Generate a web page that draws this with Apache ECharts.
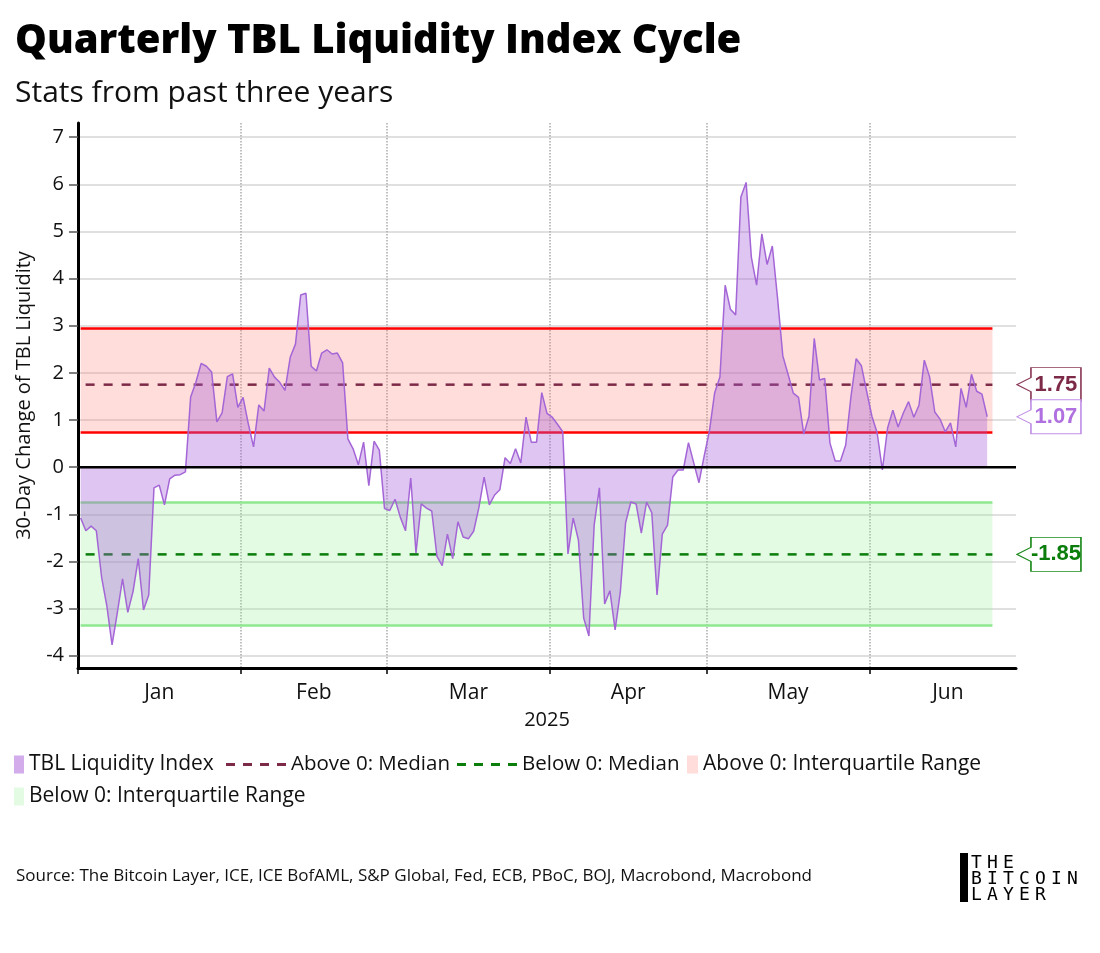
<!DOCTYPE html>
<html><head><meta charset="utf-8">
<script src="https://cdn.jsdelivr.net/npm/echarts@6/dist/echarts.min.js"></script>
<style>html,body{margin:0;padding:0;background:#fff}#chart{width:1100px;height:953px}</style>
</head><body><div id="chart"></div>
<script>
// ---- data (daily, first observation Jan 1 2025; x = days since Jan 1 00:00) ----
const valuesJan = [-1.08,-1.35,-1.25,-1.35,-2.33,-2.94,-3.77,-3.09,-2.37,-3.08,-2.64,-1.94,-3.03,-2.71,-0.44,-0.38,-0.80,-0.25,-0.17,-0.16,-0.10,1.49,1.80,2.20,2.14,2.02,0.96,1.15,1.92,1.98,1.27];
const valuesFeb = [1.48,0.92,0.43,1.32,1.19,2.10,1.91,1.80,1.63,2.33,2.61,3.65,3.69,2.14,2.04,2.42,2.49,2.40,2.42,2.21,0.60,0.39,0.05,0.53,-0.39,0.55,0.36,-0.88];
const valuesMar = [-0.92,-0.68,-1.06,-1.35,-0.23,-1.82,-0.78,-0.87,-0.93,-1.89,-2.09,-1.42,-1.94,-1.16,-1.48,-1.52,-1.36,-0.86,-0.21,-0.80,-0.59,-0.48,0.20,0.08,0.39,0.09,1.06,0.53,0.53,1.58,1.14];
const valuesApr = [1.06,0.91,0.75,-1.84,-1.08,-1.55,-3.20,-3.58,-1.23,-0.44,-2.90,-2.62,-3.45,-2.64,-1.18,-0.74,-0.78,-1.40,-0.74,-0.97,-2.71,-1.42,-1.23,-0.21,-0.06,-0.06,0.52,0.09,-0.33,0.24];
const valuesMay = [0.77,1.58,1.91,3.86,3.35,3.23,5.73,6.04,4.45,3.86,4.95,4.30,4.69,3.58,2.36,1.97,1.57,1.48,0.70,1.08,2.73,1.85,1.88,0.51,0.13,0.13,0.47,1.49,2.30,2.15,1.61];
const valuesJun = [1.08,0.73,-0.06,0.83,1.21,0.85,1.15,1.39,1.06,1.32,2.27,1.92,1.17,1.02,0.75,0.94,0.43,1.67,1.27,1.97,1.61,1.55,1.07];

const aboveMedian = 1.75;
const belowMedian = -1.85;
const aboveIQR = [0.75, 2.95];
const belowIQR = [-3.35, -0.75];
const statsLastDay = 174;          // statistics drawn through Jun 24

const monthNames = ['Jan','Feb','Mar','Apr','May','Jun'];
const monthLengths = [31, 28, 31, 30, 31, 30];
const yTicks = [-4,-3,-2,-1,0,1,2,3,4,5,6,7];
const xRange = [0, 179];           // Jan 1 00:00 .. Jun 29 00:00
const yRange = [-4.26, 7.3];

// ---- build ----
const values = [].concat(valuesJan, valuesFeb, valuesMar, valuesApr, valuesMay, valuesJun);
const dayPos = i => i + 0.5;       // daily observations centred on the day
const seriesData = values.map((v, i) => [dayPos(i), v]);
const monthStartDays = [];
monthLengths.reduce((acc, len) => { monthStartDays.push(acc); return acc + len; }, 0);
const monthMidDays = monthStartDays.map((d, k) => d + monthLengths[k] / 2);
const xMin = xRange[0], xMax = xRange[1];
const bandStart = dayPos(0), bandEnd = dayPos(statsLastDay);
const lastValue = values[values.length - 1];
const calloutX = xMax - 0.01;

const FONT = 'Open Sans';
const TXT = '#111';
const calloutPath = 'path://M0,17 L14,10 L14,0 L64,0 L64,34 L14,34 L14,24 Z';
const dashIcon = 'path://M0,0h9v3h-9z M17,0h9v3h-9z M34,0h9v3h-9z M51,0h9v3h-9z';
function callout(val, text, color, border){
  return {
    symbol: calloutPath, symbolSize: [64, 34], symbolOffset: [33, 0], symbolKeepAspect: false,
    silent: true, z: 20,
    itemStyle: {color: '#fff', borderColor: border, borderWidth: 1.2},
    label: {show: true, position: 'inside', offset: [7, 0], formatter: text,
      fontFamily: 'Liberation Sans', fontWeight: 'bold', fontSize: 22, color: color},
    data: [{coord: [calloutX, val]}]
  };
}

const chart = echarts.init(document.getElementById('chart'), null, {renderer: 'canvas'});

const logoLines = ['THE', 'BITCOIN', 'LAYER'];
const logoChildren = [{type: 'rect', shape: {x: 0, y: 0, width: 8, height: 49}, style: {fill: '#000'}}];
logoLines.forEach((line, r) => {
  line.split('').forEach((ch, c) => {
    logoChildren.push({type: 'text', x: 11 + c * 16, y: r * 16 + 1,
      style: {text: ch, fill: '#000', font: '18px "DejaVu Sans Mono"'}});
  });
});

const legendText = {fontFamily: FONT, fontSize: 21, color: TXT};

chart.setOption({
  animation: false,
  backgroundColor: '#fff',
  title: {
    text: 'Quarterly TBL Liquidity Index Cycle',
    subtext: 'Stats from past three years',
    left: 10, top: 17, itemGap: 16,
    textStyle: {fontFamily: FONT, fontSize: 40, fontWeight: 800, color: '#000'},
    subtextStyle: {fontFamily: FONT, fontSize: 30, color: TXT}
  },
  grid: {left: 78, right: 84, top: 123, bottom: 285, containLabel: false},
  legend: [
    {data: [{name: 'TBL Liquidity Index', icon: 'rect', itemStyle: {color: 'rgba(165,90,215,0.5)'}}],
      left: 14, top: 754, padding: 0, itemWidth: 10, itemHeight: 18, textStyle: legendText},
    {data: [{name: 'Above 0: Median', icon: dashIcon}, {name: 'Below 0: Median', icon: dashIcon}],
      left: 226, top: 754, padding: 0, itemWidth: 60, itemHeight: 18, itemGap: 7,
      textStyle: {fontFamily: FONT, fontSize: 20.5, color: TXT}},
    {data: [{name: 'Above 0: Interquartile Range', icon: 'rect'}], left: 687, top: 754, padding: 0,
      itemWidth: 11, itemHeight: 18, textStyle: legendText},
    {data: [{name: 'Below 0: Interquartile Range', icon: 'rect'}], left: 14, top: 786, padding: 0,
      itemWidth: 10, itemHeight: 18, textStyle: legendText}
  ],
  xAxis: {
    type: 'value', min: xMin, max: xMax,
    name: '2025', nameLocation: 'middle', nameGap: 42,
    nameTextStyle: {fontFamily: FONT, fontSize: 20, color: TXT},
    axisLine: {show: true, onZero: false, lineStyle: {color: '#000', width: 3}},
    axisTick: {show: true, customValues: monthStartDays, length: 6, lineStyle: {color: '#000', width: 1.5}},
    axisLabel: {customValues: monthMidDays, margin: 15, fontFamily: FONT, fontSize: 21, color: TXT,
      formatter: v => { const k = monthMidDays.findIndex(d => Math.abs(d - v) < 0.01); return k >= 0 ? monthNames[k] : ''; }},
    splitLine: {show: true, lineStyle: {color: '#aaa', type: 'dotted', width: 1.5}}
  },
  yAxis: {
    type: 'value', min: yRange[0], max: yRange[1],
    name: '30-Day Change of TBL Liquidity', nameLocation: 'middle', nameGap: 44,
    nameTextStyle: {fontFamily: FONT, fontSize: 20, color: TXT},
    axisLine: {show: true, lineStyle: {color: '#000', width: 3}},
    axisTick: {show: true, customValues: yTicks, length: 9, lineStyle: {color: '#555', width: 1.5}},
    axisLabel: {customValues: yTicks, margin: 14, fontFamily: FONT, fontSize: 20, color: TXT},
    splitLine: {show: true, lineStyle: {color: '#d6d6d6', width: 1.5}}
  },
  series: [
    {
      name: 'Above 0: Interquartile Range', type: 'line', data: [], z: 1,
      itemStyle: {color: 'rgba(255,120,110,0.25)'},
      markArea: {silent: true, z: 1, itemStyle: {color: 'rgba(255,120,110,0.25)'},
        data: [[{coord: [bandStart, aboveIQR[0]]}, {coord: [bandEnd, aboveIQR[1]]}]]},
      markLine: {silent: true, symbol: 'none', z: 2, label: {show: false},
        lineStyle: {color: '#ff0000', width: 2.5, type: 'solid'},
        data: [[{coord: [bandStart, aboveIQR[1]]}, {coord: [bandEnd, aboveIQR[1]]}],
               [{coord: [bandStart, aboveIQR[0]]}, {coord: [bandEnd, aboveIQR[0]]}]]}
    },
    {
      name: 'Below 0: Interquartile Range', type: 'line', data: [], z: 1,
      itemStyle: {color: 'rgba(144,238,144,0.25)'},
      markArea: {silent: true, z: 1, itemStyle: {color: 'rgba(144,238,144,0.25)'},
        data: [[{coord: [bandStart, belowIQR[0]]}, {coord: [bandEnd, belowIQR[1]]}]]},
      markLine: {silent: true, symbol: 'none', z: 2, label: {show: false},
        lineStyle: {color: '#8fe88f', width: 2.5, type: 'solid'},
        data: [[{coord: [bandStart, belowIQR[1]]}, {coord: [bandEnd, belowIQR[1]]}],
               [{coord: [bandStart, belowIQR[0]]}, {coord: [bandEnd, belowIQR[0]]}]]}
    },
    {
      name: 'Above 0: Median', type: 'line', symbol: 'none', z: 2, silent: true,
      data: [[bandStart, aboveMedian], [bandEnd, aboveMedian]],
      itemStyle: {color: '#7d2a48'},
      lineStyle: {color: '#7d2a48', width: 2.5, type: [9, 9], dashOffset: 13},
      markPoint: callout(aboveMedian, aboveMedian.toFixed(2), '#7d2a48', '#8b3a58')
    },
    {
      name: 'Below 0: Median', type: 'line', symbol: 'none', z: 2, silent: true,
      data: [[bandStart, belowMedian], [bandEnd, belowMedian]],
      itemStyle: {color: '#0a7d0a'},
      lineStyle: {color: '#0a7d0a', width: 2.5, type: [9, 9], dashOffset: 13},
      markPoint: callout(belowMedian, belowMedian.toFixed(2), '#0a7d0a', '#1a8a1a')
    },
    {
      name: 'TBL Liquidity Index', type: 'line', symbol: 'none', z: 3, silent: true,
      data: seriesData,
      itemStyle: {color: '#a868d8'},
      lineStyle: {color: '#a466d6', width: 1.5},
      areaStyle: {color: 'rgba(165,90,215,0.5)', origin: 0},
      markPoint: callout(lastValue, lastValue.toFixed(2), '#b070e0', '#c090e8')
    },
    {
      name: 'zero', type: 'line', symbol: 'none', z: 4, silent: true,
      data: [[xMin, 0], [xMax, 0]],
      lineStyle: {color: '#000', width: 2.5}
    }
  ],
  graphic: [
    {type: 'text', left: 16, top: 868, style: {text: 'Source: The Bitcoin Layer, ICE, ICE BofAML, S&P Global, Fed, ECB, PBoC, BOJ, Macrobond, Macrobond',
      fill: TXT, font: '17px "Open Sans"'}},
    {type: 'group', left: 960, top: 853, children: logoChildren}
  ]
});
</script></body></html>
